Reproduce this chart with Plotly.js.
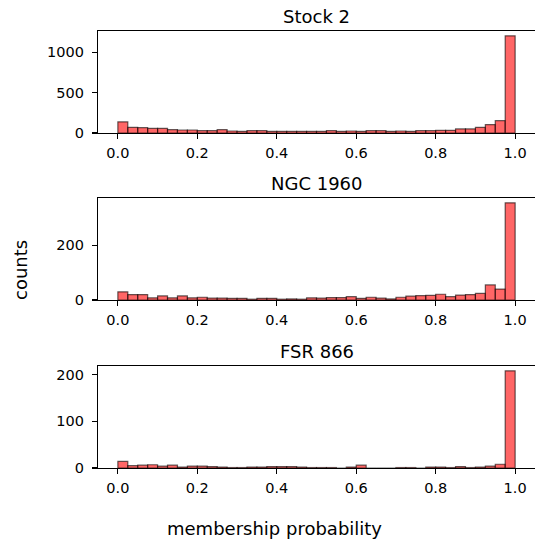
<!DOCTYPE html>
<html>
<head>
<meta charset="utf-8">
<script src="https://cdn.plot.ly/plotly-3.0.1.min.js"></script>
<style>html,body{margin:0;padding:0;background:#fff;}#chart{width:535px;height:539px;}</style>
</head>
<body>
<div id="chart"></div>
<script>
// 40 bins of width 0.025 from 0 to 1
const binWidth = 0.025;
const nBins = 40;
const panelTitles = ["Stock 2", "NGC 1960", "FSR 866"];

const countsStock2 = [138, 70, 66, 57, 57, 41, 37, 37, 29, 29,
                      41, 25, 20, 29, 29, 20, 20, 20, 20, 20,
                      20, 29, 20, 25, 20, 29, 29, 20, 25, 20,
                      29, 29, 33, 33, 50, 50, 70, 104, 152, 1200];
const countsNGC1960 = [30, 20, 20, 8, 15, 8, 15, 8, 10, 7,
                       7, 6, 6, 3, 6, 6, 3, 4, 3, 8,
                       7, 9, 9, 12, 6, 10, 7, 4, 10, 14,
                       16, 17, 21, 12, 18, 20, 24, 55, 40, 355];
const countsFSR866 = [14, 5, 6, 7, 4, 6, 2, 4, 4, 3,
                      2, 1, 1, 2, 2, 3, 3, 3, 2, 1,
                      1, 1, 0, 2, 6, 0, 0, 0, 1, 1,
                      0, 2, 2, 1, 3, 1, 2, 4, 8, 208];

const xTickVals = [0, 0.2, 0.4, 0.6, 0.8, 1.0];
const yTickVals = [[0, 500, 1000], [0, 200], [0, 100, 200]];

const allCounts = [countsStock2, countsNGC1960, countsFSR866];
const binCenters = [];
for (let i = 0; i < nBins; i++) binCenters.push(binWidth * (i + 0.5));

const W = 535, H = 539;
const xDom = [98 / W, 1];
const pxTop = [31, 198, 366], pxBot = [133, 300, 468];

const font = "DejaVu Sans, sans-serif";
const traces = [];
const layout = {
  width: W, height: H,
  margin: {l: 0, r: 0, t: 0, b: 0},
  paper_bgcolor: "#fff", plot_bgcolor: "#fff",
  showlegend: false,
  bargap: 0,
  font: {family: font, color: "#000"},
  annotations: []
};

allCounts.forEach((counts, k) => {
  const sfx = k === 0 ? "" : String(k + 1);
  traces.push({
    type: "bar",
    x: binCenters,
    y: counts,
    width: binWidth,
    xaxis: "x" + sfx, yaxis: "y" + sfx,
    marker: {color: "rgba(255,0,0,0.6)", line: {color: "rgba(0,0,0,0.6)", width: 1.2}},
    hoverinfo: "x+y"
  });
  const ymax = Math.max(...counts);
  const yDom = [1 - pxBot[k] / H, 1 - pxTop[k] / H];
  layout["xaxis" + sfx] = {
    domain: xDom, range: [-0.05, 1.05], anchor: "y" + sfx,
    tickvals: xTickVals, tickformat: ".1f",
    ticks: "outside", ticklen: 5, tickwidth: 1.1, tickcolor: "#000",
    ticklabelstandoff: 1,
    showline: true, mirror: true, linecolor: "#000", linewidth: 1.1,
    showgrid: false, zeroline: false,
    tickfont: {family: font, size: 14.5, color: "#000"}
  };
  layout["yaxis" + sfx] = {
    domain: yDom, range: [0, ymax * 1.05], anchor: "x" + sfx,
    tickvals: yTickVals[k],
    ticks: "outside", ticklen: 5, tickwidth: 1.1, tickcolor: "#000",
    ticklabelstandoff: 5,
    showline: true, mirror: true, linecolor: "#000", linewidth: 1.1,
    showgrid: false, zeroline: false,
    tickfont: {family: font, size: 14.5, color: "#000"}
  };
  layout.annotations.push({
    text: panelTitles[k], xref: "paper", yref: "paper",
    x: (xDom[0] + xDom[1]) / 2, y: yDom[1], xanchor: "center", yanchor: "bottom",
    yshift: 2, showarrow: false, font: {family: font, size: 18, color: "#000"}
  });
});

layout.annotations.push({
  text: "counts", xref: "paper", yref: "paper", x: 20 / W, y: 1 - 270 / H,
  xanchor: "center", yanchor: "middle", textangle: -90, showarrow: false,
  font: {family: font, size: 18, color: "#000"}
});
layout.annotations.push({
  text: "membership probability", xref: "paper", yref: "paper", x: 275 / W, y: 1 - 528 / H,
  xanchor: "center", yanchor: "middle", showarrow: false,
  font: {family: font, size: 18, color: "#000"}
});

Plotly.newPlot("chart", traces, layout, {displayModeBar: false, staticPlot: true});
</script>
</body>
</html>
